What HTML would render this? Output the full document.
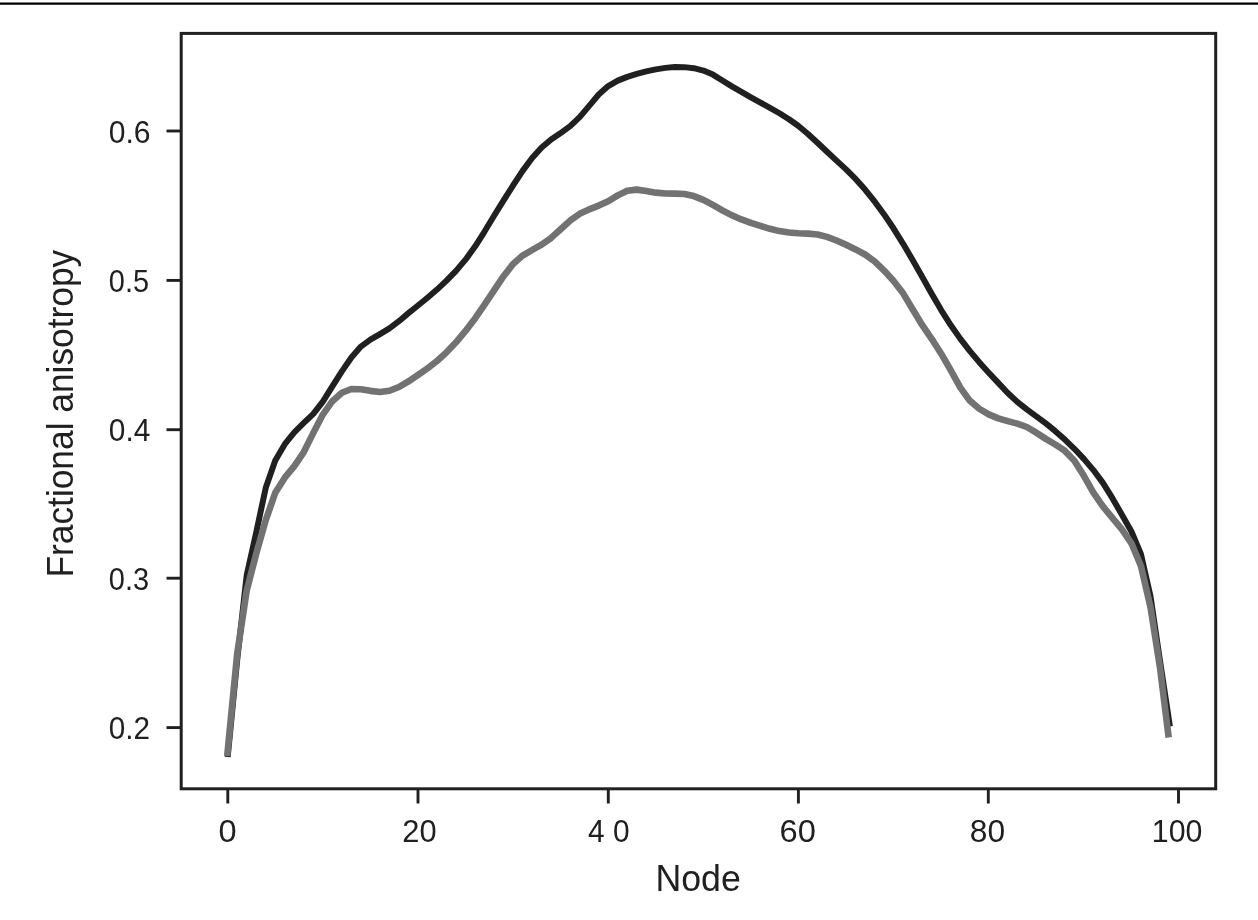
<!DOCTYPE html>
<html><head><meta charset="utf-8"><style>
html,body{margin:0;padding:0;background:#fff;}
svg{display:block;font-family:"Liberation Sans", sans-serif;will-change:transform;filter:blur(0.4px);}
</style></head><body>
<svg width="1258" height="920" viewBox="0 0 1258 920">
<line x1="0" y1="3.6" x2="1258" y2="3.6" stroke="#000" stroke-width="2.4"/>
<rect x="181.2" y="33.4" width="1034.5" height="755.4" fill="none" stroke="#202020" stroke-width="3"/>
<line x1="227.8" y1="789" x2="227.8" y2="803.5" stroke="#202020" stroke-width="2.9"/>
<line x1="418" y1="789" x2="418" y2="803.5" stroke="#202020" stroke-width="2.9"/>
<line x1="608.3" y1="789" x2="608.3" y2="803.5" stroke="#202020" stroke-width="2.9"/>
<line x1="798.4" y1="789" x2="798.4" y2="803.5" stroke="#202020" stroke-width="2.9"/>
<line x1="988.3" y1="789" x2="988.3" y2="803.5" stroke="#202020" stroke-width="2.9"/>
<line x1="1178.5" y1="789" x2="1178.5" y2="803.5" stroke="#202020" stroke-width="2.9"/>
<line x1="166.5" y1="131.0" x2="181" y2="131.0" stroke="#202020" stroke-width="2.9"/>
<line x1="166.5" y1="280.4" x2="181" y2="280.4" stroke="#202020" stroke-width="2.9"/>
<line x1="166.5" y1="429.7" x2="181" y2="429.7" stroke="#202020" stroke-width="2.9"/>
<line x1="166.5" y1="578.2" x2="181" y2="578.2" stroke="#202020" stroke-width="2.9"/>
<line x1="166.5" y1="727.6" x2="181" y2="727.6" stroke="#202020" stroke-width="2.9"/>
<path d="M227.70,757.00 L237.21,659.69 L246.73,575.04 L256.24,532.29 L265.75,487.80 L275.26,460.51 L284.78,444.23 L294.29,432.33 L303.80,422.98 L313.32,413.91 L322.83,401.59 L332.34,386.34 L341.86,371.38 L351.37,357.44 L360.88,346.58 L370.39,339.69 L379.91,334.11 L389.42,328.40 L398.93,321.21 L408.45,313.14 L417.96,305.47 L427.47,297.79 L436.99,289.57 L446.50,280.67 L456.01,270.87 L465.52,259.65 L475.04,246.54 L484.55,231.57 L494.06,215.74 L503.58,200.36 L513.09,185.49 L522.60,170.90 L532.12,158.04 L541.63,147.56 L551.14,139.42 L560.65,133.10 L570.17,126.19 L579.68,117.13 L589.19,105.87 L598.71,94.54 L608.22,86.03 L617.73,80.65 L627.25,76.89 L636.76,73.95 L646.27,71.44 L655.78,69.37 L665.30,67.88 L674.81,67.08 L684.32,67.13 L693.84,68.20 L703.35,70.54 L712.86,74.60 L722.38,80.46 L731.89,86.40 L741.40,91.95 L750.91,97.31 L760.43,102.51 L769.94,107.76 L779.45,113.24 L788.97,119.25 L798.48,126.04 L807.99,133.99 L817.51,142.73 L827.02,151.79 L836.53,160.60 L846.05,169.36 L855.56,178.88 L865.07,189.54 L874.58,201.41 L884.10,214.43 L893.61,228.55 L903.12,243.82 L912.64,260.02 L922.15,276.76 L931.66,293.76 L941.17,310.04 L950.69,325.07 L960.20,338.63 L969.71,350.90 L979.23,362.17 L988.74,372.66 L998.25,382.90 L1007.77,393.06 L1017.28,401.91 L1026.79,409.38 L1036.31,416.33 L1045.82,423.45 L1055.33,431.16 L1064.84,439.56 L1074.36,448.78 L1083.87,458.88 L1093.38,470.07 L1102.90,482.91 L1112.41,498.15 L1121.92,514.77 L1131.43,531.50 L1140.95,554.22 L1150.46,596.11 L1159.97,660.73 L1169.90,726.50" fill="none" stroke="#202020" stroke-width="6.0" stroke-linejoin="round"/>
<path d="M227.20,756.00 L237.21,653.66 L246.73,590.33 L256.24,553.58 L265.75,520.12 L275.26,492.79 L284.78,477.64 L294.29,466.12 L303.80,452.06 L313.32,432.88 L322.83,414.59 L332.34,401.19 L341.86,392.75 L351.37,389.03 L360.88,389.20 L370.39,390.87 L379.91,391.93 L389.42,390.74 L398.93,387.00 L408.45,381.38 L417.96,375.05 L427.47,368.40 L436.99,361.00 L446.50,352.33 L456.01,342.34 L465.52,330.99 L475.04,318.44 L484.55,304.71 L494.06,290.41 L503.58,276.21 L513.09,263.91 L522.60,255.60 L532.12,249.99 L541.63,244.63 L551.14,237.93 L560.65,229.29 L570.17,220.57 L579.68,213.86 L589.19,209.38 L598.71,205.62 L608.22,201.26 L617.73,195.41 L627.25,190.73 L636.76,189.64 L646.27,190.94 L655.78,192.63 L665.30,193.48 L674.81,193.58 L684.32,194.03 L693.84,196.07 L703.35,199.87 L712.86,204.92 L722.38,210.42 L731.89,215.34 L741.40,219.41 L750.91,222.87 L760.43,225.93 L769.94,228.82 L779.45,231.11 L788.97,232.53 L798.48,233.26 L807.99,233.61 L817.51,234.54 L827.02,236.92 L836.53,240.52 L846.05,244.83 L855.56,249.45 L865.07,254.50 L874.58,261.39 L884.10,270.58 L893.61,280.99 L903.12,293.34 L912.64,309.20 L922.15,324.99 L931.66,338.82 L941.17,353.69 L950.69,370.04 L960.20,387.34 L969.71,400.59 L979.23,408.77 L988.74,414.39 L998.25,418.36 L1007.77,421.11 L1017.28,423.61 L1026.79,427.00 L1036.31,432.65 L1045.82,438.88 L1055.33,444.50 L1064.84,450.86 L1074.36,460.70 L1083.87,475.86 L1093.38,492.63 L1102.90,506.41 L1112.41,517.97 L1121.92,529.39 L1131.43,543.29 L1140.95,566.06 L1150.46,606.88 L1159.97,667.46 L1168.70,737.50" fill="none" stroke="#727273" stroke-width="6.6" stroke-linejoin="round"/>
<text transform="matrix(0.3250,0,0,0.3127,218.60,841.79)" font-size="100" fill="#202020">0</text>
<text transform="matrix(0.3088,0,0,0.3085,402.26,841.59)" font-size="100" fill="#202020">20</text>
<text transform="matrix(0.2985,0,0,0.3099,588.00,841.69)" font-size="100" fill="#202020">4 0</text>
<text transform="matrix(0.3265,0,0,0.3099,779.57,841.69)" font-size="100" fill="#202020">60</text>
<text transform="matrix(0.3175,0,0,0.3113,969.73,841.69)" font-size="100" fill="#202020">80</text>
<text transform="matrix(0.3032,0,0,0.3113,1151.87,841.69)" font-size="100" fill="#202020">100</text>
<text transform="matrix(0.3008,0,0,0.3183,108.80,142.98)" font-size="100" fill="#202020">0.6</text>
<text transform="matrix(0.2893,0,0,0.3127,108.84,291.89)" font-size="100" fill="#202020">0.5</text>
<text transform="matrix(0.2985,0,0,0.3127,108.81,440.79)" font-size="100" fill="#202020">0.4</text>
<text transform="matrix(0.2893,0,0,0.3113,108.84,589.69)" font-size="100" fill="#202020">0.3</text>
<text transform="matrix(0.2969,0,0,0.3155,108.81,738.88)" font-size="100" fill="#202020">0.2</text>
<text transform="matrix(0.3573,0,0,0.3662,655.44,890.83)" font-size="100" fill="#202020">Node</text>
<text transform="matrix(0,-0.3532,0.3670,0,72.99,577.53)" font-size="100" fill="#202020">Fractional anisotropy</text>
</svg></body></html>
